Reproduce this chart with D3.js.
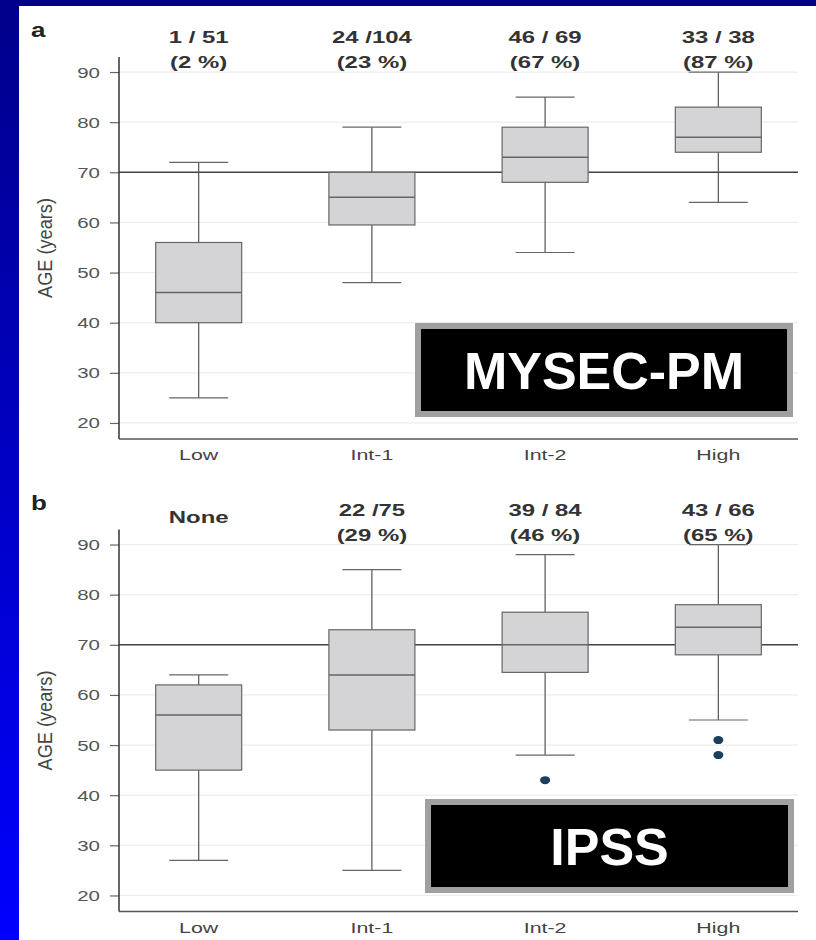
<!DOCTYPE html>
<html><head><meta charset="utf-8">
<script src="https://cdn.jsdelivr.net/npm/d3@7"></script>
<style>body{margin:0;background:#fff} svg{display:block}</style>
</head><body><svg id="c" width="816" height="940"></svg>
<script>
const categories = ["Low","Int-1","Int-2","High"];
const panelLabels = ["a","b"];
const badgeTexts = ["MYSEC-PM","IPSS"];
const yTicks = [20,30,40,50,60,70,80,90];
const refAge = 70;
const yAxisTitle = "AGE (years)";
// panel a (MYSEC-PM)
const aWhiskerLow = [25,48,54,64];
const aQ1 = [40,59.5,68,74];
const aMedian = [46,65,73,77];
const aQ3 = [56,70,79,83];
const aWhiskerHigh = [72,79,85,90];
const aOutliers = [[],[],[],[]];
const aCountLine1 = ["1 / 51","24 /104","46 / 69","33 / 38"];
const aCountLine2 = ["(2 %)","(23 %)","(67 %)","(87 %)"];
// panel b (IPSS)
const bWhiskerLow = [27,25,48,55];
const bQ1 = [45,53,64.5,68];
const bMedian = [56,64,70,73.5];
const bQ3 = [62,73,76.5,78];
const bWhiskerHigh = [64,85,88,90];
const bOutliers = [[],[],[43],[51,48]];
const bCountLine1 = ["None","22 /75","39 / 84","43 / 66"];
const bCountLine2 = ["","(29 %)","(46 %)","(65 %)"];

const panels = [
  {label: panelLabels[0], badge: badgeTexts[0], lo: aWhiskerLow, q1: aQ1, med: aMedian, q3: aQ3, hi: aWhiskerHigh, out: aOutliers, l1: aCountLine1, l2: aCountLine2, dy: 0,
   badgeBox: {x: 418, y: 326, w: 372, h: 88}},
  {label: panelLabels[1], badge: badgeTexts[1], lo: bWhiskerLow, q1: bQ1, med: bMedian, q3: bQ3, hi: bWhiskerHigh, out: bOutliers, l1: bCountLine1, l2: bCountLine2, dy: 472.5,
   badgeBox: {x: 428, y: 802, w: 363, h: 88}}
];

const svg = d3.select("#c");
const defs = svg.append("defs");
const grad = defs.append("linearGradient").attr("id","bg").attr("x1",0).attr("y1",0).attr("x2",0).attr("y2",1);
grad.append("stop").attr("offset","0%").attr("stop-color","#00008a");
grad.append("stop").attr("offset","100%").attr("stop-color","#0000ff");
svg.append("rect").attr("width",816).attr("height",940).attr("fill","url(#bg)");
svg.append("rect").attr("x",19).attr("y",6).attr("width",797).attr("height",934).attr("fill","#fff");

const x = d3.scalePoint().domain(categories).range([119, 798]).padding(0.46);
const boxW = 86, capW = 59;

function sText(parent, px, py, str, sx, opts) {
  const t = parent.append("g").attr("transform", `translate(${px},${py}) scale(${sx},1)`)
    .append("text").text(str)
    .attr("font-family", "Liberation Sans, Arial, sans-serif")
    .attr("font-size", opts.size)
    .attr("font-weight", opts.weight || "normal")
    .attr("fill", opts.fill || "#444")
    .attr("text-anchor", opts.anchor || "middle");
  return t;
}

panels.forEach(p => {
  const g = svg.append("g");
  const y = d3.scaleLinear().domain([16.8, 93]).range([439 + p.dy, 57 + p.dy]);
  // grid
  g.selectAll(".grid").data(yTicks).join("line")
    .attr("x1", 119).attr("x2", 798)
    .attr("y1", d => y(d)).attr("y2", d => y(d))
    .attr("stroke", "#ededed").attr("stroke-width", 1.2);
  // reference line
  g.append("line").attr("x1", 119).attr("x2", 798)
    .attr("y1", y(refAge)).attr("y2", y(refAge))
    .attr("stroke", "#444").attr("stroke-width", 1.5);
  // y axis
  const ya = d3.axisLeft(y).tickValues(yTicks).tickSize(9).tickFormat("");
  const yg = g.append("g").attr("transform", "translate(119,0)").call(ya);
  yg.select(".domain").remove();
  yg.selectAll(".tick line").attr("stroke", "#666").attr("stroke-width", 1.2);
  g.append("line").attr("x1", 119).attr("x2", 119).attr("y1", y(93)).attr("y2", y(16.8))
    .attr("stroke", "#333").attr("stroke-width", 1.5);
  yTicks.forEach(v => sText(g, 100, y(v) + 5.5, String(v), 1.32, {size: 15.5, anchor: "end", fill: "#555"}));
  // x axis
  g.append("line").attr("x1", 119).attr("x2", 798).attr("y1", y(16.8)).attr("y2", y(16.8))
    .attr("stroke", "#555").attr("stroke-width", 1.5);
  categories.forEach(c => sText(g, x(c), y(16.8) + 21, c, 1.38, {size: 15.5, fill: "#444"}));
  // y title
  g.append("g").attr("transform", `translate(52,${248 + p.dy}) scale(1.3,1) rotate(-90)`)
    .append("text").text(yAxisTitle)
    .attr("font-family", "Liberation Sans, Arial, sans-serif").attr("font-size", 16)
    .attr("fill", "#444").attr("text-anchor", "middle")
    .attr("textLength", 100).attr("lengthAdjust", "spacingAndGlyphs");
  // panel label
  sText(g, 31, 37 + p.dy, p.label, 1.3, {size: 20, weight: "bold", anchor: "start", fill: "#222"});
  // boxes
  categories.forEach((c, i) => {
    const cx = x(c);
    g.append("line").attr("x1", cx).attr("x2", cx).attr("y1", y(p.hi[i])).attr("y2", y(p.q3[i])).attr("stroke", "#555").attr("stroke-width", 1.2);
    g.append("line").attr("x1", cx).attr("x2", cx).attr("y1", y(p.q1[i])).attr("y2", y(p.lo[i])).attr("stroke", "#555").attr("stroke-width", 1.2);
    g.append("line").attr("x1", cx - capW/2).attr("x2", cx + capW/2).attr("y1", y(p.hi[i])).attr("y2", y(p.hi[i])).attr("stroke", "#666").attr("stroke-width", 1.2);
    g.append("line").attr("x1", cx - capW/2).attr("x2", cx + capW/2).attr("y1", y(p.lo[i])).attr("y2", y(p.lo[i])).attr("stroke", "#666").attr("stroke-width", 1.2);
    g.append("rect").attr("x", cx - boxW/2).attr("width", boxW)
      .attr("y", y(p.q3[i])).attr("height", y(p.q1[i]) - y(p.q3[i]))
      .attr("fill", "#d4d4d7").attr("stroke", "#666").attr("stroke-width", 1.2);
    g.append("line").attr("x1", cx - boxW/2).attr("x2", cx + boxW/2).attr("y1", y(p.med[i])).attr("y2", y(p.med[i])).attr("stroke", "#666").attr("stroke-width", 1.5);
    p.out[i].forEach(v => g.append("ellipse").attr("cx", cx).attr("cy", y(v)).attr("rx", 5).attr("ry", 4).attr("fill", "#1c3f60"));
    // header counts
    if (p.l2[i]) {
      sText(g, cx, 43 + p.dy, p.l1[i], 1.45, {size: 16.5, weight: "bold", fill: "#333"});
      sText(g, cx, 68 + p.dy, p.l2[i], 1.45, {size: 16.5, weight: "bold", fill: "#333"});
    } else {
      sText(g, cx, 50 + p.dy, p.l1[i], 1.45, {size: 16.5, weight: "bold", fill: "#333"});
    }
  });
  // badge
  const b = p.badgeBox;
  g.append("rect").attr("x", b.x).attr("y", b.y).attr("width", b.w).attr("height", b.h)
    .attr("fill", "#000").attr("stroke", "#a0a0a0").attr("stroke-width", 6);
  g.append("text").text(p.badge).attr("x", b.x + b.w/2).attr("y", b.y + b.h/2 + 19)
    .attr("text-anchor", "middle").attr("font-family", "Liberation Sans, Arial, sans-serif")
    .attr("font-weight", "bold").attr("font-size", 52).attr("fill", "#fff");
});
</script></body></html>
